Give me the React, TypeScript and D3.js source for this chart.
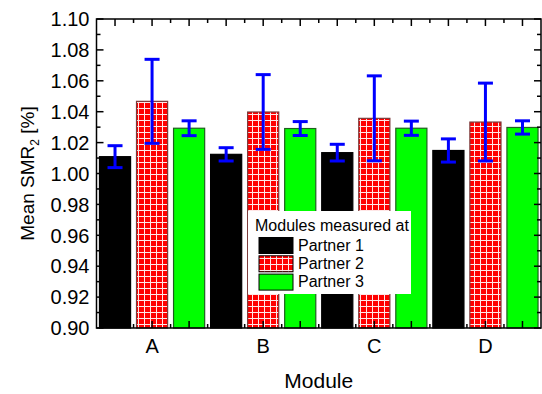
import React, { useRef, useEffect } from 'react';
import * as d3 from 'd3';

// data
const categories = ['A', 'B', 'C', 'D'];
const partner1 = [1.0109, 1.0124, 1.0135, 1.0149];
const partner1Err = [0.0071, 0.0043, 0.0054, 0.0075];
const partner2 = [1.0467, 1.0398, 1.0357, 1.0333];
const partner2Err = [0.0272, 0.0242, 0.0275, 0.0252];
const partner3 = [1.0293, 1.0291, 1.0293, 1.0298];
const partner3Err = [0.0048, 0.0045, 0.0046, 0.0043];
const seriesNames = ['Partner 1', 'Partner 2', 'Partner 3'];
const yTicks = [0.9, 0.92, 0.94, 0.96, 0.98, 1.0, 1.02, 1.04, 1.06, 1.08, 1.1];

const App = () => {
  const svgRef = useRef<SVGSVGElement>(null);

  useEffect(() => {
    const svg = d3.select(svgRef.current);
    svg.selectAll('*').remove();

    const left = 96.5;
    const right = 541;
    const top = 19;
    const bottom = 328;
    const font = 'Liberation Sans, Arial, sans-serif';

    const x = d3.scaleLinear().domain([0.5, 12.5]).range([left, right]);
    const y = d3.scaleLinear().domain([0.9, 1.1]).range([bottom, top]);
    const barW = (x(1) - x(0)) * 0.84;

    // red grid pattern
    const defs = svg.append('defs');
    const pat = defs
      .append('pattern')
      .attr('id', 'redgrid')
      .attr('patternUnits', 'userSpaceOnUse')
      .attr('width', 6)
      .attr('height', 6);
    pat.append('rect').attr('width', 6).attr('height', 6).attr('fill', '#ff0000');
    pat.append('path').attr('d', 'M0,0.5H6M0.5,0V6').attr('stroke', '#ffe6e6').attr('stroke-width', 1);

    const fills = ['#000000', 'url(#redgrid)', '#00ff00'];
    const strokes = ['#000000', '#7a3a3a', '#1f5f1f'];
    const values = [partner1, partner2, partner3];
    const errs = [partner1Err, partner2Err, partner3Err];

    const bars = [];
    categories.forEach((c, i) => {
      values.forEach((v, j) => {
        bars.push({ pos: i * 3 + j + 1, value: v[i], err: errs[j][i], s: j });
      });
    });

    // bars
    svg
      .append('g')
      .selectAll('rect')
      .data(bars)
      .enter()
      .append('rect')
      .attr('x', (d) => x(d.pos) - barW / 2)
      .attr('y', (d) => y(d.value))
      .attr('width', barW)
      .attr('height', (d) => y(0.9) - y(d.value))
      .attr('fill', (d) => fills[d.s])
      .attr('stroke', (d) => strokes[d.s])
      .attr('stroke-width', 1.2);

    // error bars
    const eg = svg.append('g').attr('stroke', '#0000ff').attr('stroke-width', 3);
    bars.forEach((d) => {
      const cx = x(d.pos);
      eg.append('line').attr('x1', cx).attr('x2', cx).attr('y1', y(d.value + d.err)).attr('y2', y(d.value - d.err));
      [d.value + d.err, d.value - d.err].forEach((e) => {
        eg.append('line').attr('x1', cx - 7.5).attr('x2', cx + 7.5).attr('y1', y(e)).attr('y2', y(e));
      });
    });

    // axes frame and ticks
    const ax = svg.append('g').attr('stroke', '#000').attr('stroke-width', 1.5);
    ax.append('rect')
      .attr('x', left)
      .attr('y', top)
      .attr('width', right - left)
      .attr('height', bottom - top)
      .attr('fill', 'none');

    const xMajor = d3.range(1, 13);
    const xMinor = d3.range(1.5, 12, 1);
    xMajor.forEach((t) => {
      ax.append('line').attr('x1', x(t)).attr('x2', x(t)).attr('y1', bottom).attr('y2', bottom - 7);
      ax.append('line').attr('x1', x(t)).attr('x2', x(t)).attr('y1', top).attr('y2', top + 7);
    });
    xMinor.forEach((t) => {
      ax.append('line').attr('x1', x(t)).attr('x2', x(t)).attr('y1', bottom).attr('y2', bottom - 4);
      ax.append('line').attr('x1', x(t)).attr('x2', x(t)).attr('y1', top).attr('y2', top + 4);
    });
    const yMinor = d3.range(0.91, 1.1, 0.02);
    yTicks.forEach((t) => {
      ax.append('line').attr('x1', left).attr('x2', left + 7).attr('y1', y(t)).attr('y2', y(t));
      ax.append('line').attr('x1', right).attr('x2', right - 7).attr('y1', y(t)).attr('y2', y(t));
    });
    yMinor.forEach((t) => {
      ax.append('line').attr('x1', left).attr('x2', left + 4).attr('y1', y(t)).attr('y2', y(t));
      ax.append('line').attr('x1', right).attr('x2', right - 4).attr('y1', y(t)).attr('y2', y(t));
    });

    // tick labels
    svg
      .append('g')
      .selectAll('text')
      .data(yTicks)
      .enter()
      .append('text')
      .attr('x', left - 7)
      .attr('y', (d) => y(d))
      .attr('dy', '0.36em')
      .attr('text-anchor', 'end')
      .attr('font-family', font)
      .attr('font-size', 20)
      .text((d) => d.toFixed(2));

    svg
      .append('g')
      .selectAll('text')
      .data(categories)
      .enter()
      .append('text')
      .attr('x', (d, i) => x(i * 3 + 2))
      .attr('y', 353)
      .attr('text-anchor', 'middle')
      .attr('font-family', font)
      .attr('font-size', 20)
      .text((d) => d);

    // axis titles
    svg
      .append('text')
      .attr('x', (left + right) / 2)
      .attr('y', 388)
      .attr('text-anchor', 'middle')
      .attr('font-family', font)
      .attr('font-size', 21)
      .text('Module');

    const yl = svg
      .append('text')
      .attr('transform', `translate(34, ${(top + bottom) / 2}) rotate(-90)`)
      .attr('text-anchor', 'middle')
      .attr('font-family', font)
      .attr('font-size', 19);
    yl.append('tspan').text('Mean SMR');
    yl.append('tspan').attr('font-size', 12).attr('dy', 5).text('2');
    yl.append('tspan').attr('dy', -5).text(' [%]');

    // legend
    const lg = svg.append('g').attr('font-family', font).attr('font-size', 16);
    lg.append('rect').attr('x', 248).attr('y', 211).attr('width', 163).attr('height', 83).attr('fill', '#fff');
    lg.append('text').attr('x', 255).attr('y', 231).text('Modules measured at');
    seriesNames.forEach((n, j) => {
      const yy = 237.5 + j * 18.3;
      lg.append('rect')
        .attr('x', 259)
        .attr('y', yy)
        .attr('width', 34)
        .attr('height', 16)
        .attr('fill', fills[j])
        .attr('stroke', '#000')
        .attr('stroke-width', 1);
      lg.append('text').attr('x', 298).attr('y', yy + 13).text(n);
    });
  }, []);

  return (
    <div>
      <svg
        ref={svgRef}
        width={542}
        height={394}
        style={{ position: 'absolute', left: 0, top: 0, background: '#fff' }}
      ></svg>
    </div>
  );
};

export default App;
